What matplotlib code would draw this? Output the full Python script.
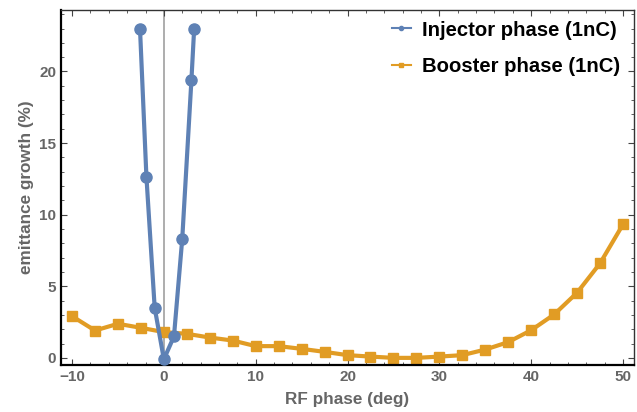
import matplotlib
matplotlib.use('Agg')
import matplotlib.pyplot as plt
from matplotlib.lines import Line2D
from matplotlib.ticker import MultipleLocator

plt.rcParams['font.family'] = ['Liberation Sans', 'DejaVu Sans']

# injector phase scan (1nC)
inj_phase = [-2.6, -1.9, -1.0, 0.0, 1.1, 2.0, 3.0, 3.3]
inj_growth = [23.0, 12.65, 3.5, -0.1, 1.5, 8.3, 19.4, 23.0]

# booster phase scan (1nC)
boo_phase = [-10, -7.5, -5, -2.5, 0, 2.5, 5, 7.5, 10, 12.5, 15, 17.5, 20,
             22.5, 25, 27.5, 30, 32.5, 35, 37.5, 40, 42.5, 45, 47.5, 50]
boo_growth = [2.91, 1.91, 2.38, 2.1, 1.8, 1.68, 1.42, 1.21, 0.82, 0.82, 0.63,
              0.42, 0.19, 0.09, 0.0, 0.0, 0.09, 0.19, 0.58, 1.1, 1.93, 3.03,
              4.55, 6.6, 9.32]

blue = '#5E81B5'
orange = '#E19C24'
gray = '#666666'

fig = plt.figure(figsize=(6.37, 4.12), dpi=100)
ax = fig.add_axes([0.0958, 0.114, 0.8995, 0.862])

ax.axvline(0, color='#a0a0a0', lw=1.2, zorder=1)
ax.plot(boo_phase, boo_growth, color=orange, lw=3, marker='s', ms=7.5, zorder=2)
ax.plot(inj_phase, inj_growth, color=blue, lw=3, marker='o', ms=8, zorder=3)

ax.set_xlim(-11.2, 51.2)
ax.set_ylim(-0.5, 24.3)
ax.xaxis.set_major_locator(MultipleLocator(10))
ax.xaxis.set_minor_locator(MultipleLocator(2))
ax.yaxis.set_major_locator(MultipleLocator(5))
ax.yaxis.set_minor_locator(MultipleLocator(1))
ax.tick_params(which='both', direction='in', top=True, right=True,
               colors='#444444', labelcolor=gray)
ax.tick_params(which='major', length=4, width=0.8, labelsize=11)
ax.tick_params(which='minor', length=2.5, width=0.6)
for lab in ax.get_xticklabels() + ax.get_yticklabels():
    lab.set_fontweight('bold')
ax.set_xticks([-10, 0, 10, 20, 30, 40, 50])
ax.set_xticklabels(['\u221210', '0', '10', '20', '30', '40', '50'],
                   fontweight='bold')

for side in ['left', 'bottom']:
    ax.spines[side].set_linewidth(1.6)
    ax.spines[side].set_color('black')
for side in ['top', 'right']:
    ax.spines[side].set_linewidth(1.0)
    ax.spines[side].set_color('#333333')

ax.set_xlabel('RF phase (deg)', fontsize=12.3, fontweight='bold', color=gray, labelpad=6)
ax.set_ylabel('emittance growth (%)', fontsize=12.3, fontweight='bold', color=gray, labelpad=4)

handles = [Line2D([], [], color=blue, lw=1.5, marker='o', ms=3),
           Line2D([], [], color=orange, lw=1.5, marker='s', ms=3)]
leg = ax.legend(handles, ['Injector phase (1nC)', 'Booster phase (1nC)'],
                loc='upper right', bbox_to_anchor=(1.0, 1.01), frameon=False,
                prop={'weight': 'bold', 'size': 14.6}, handlelength=0.9,
                handletextpad=0.55, labelspacing=0.85, borderaxespad=0.3)

fig.savefig('out.png', dpi=100)
